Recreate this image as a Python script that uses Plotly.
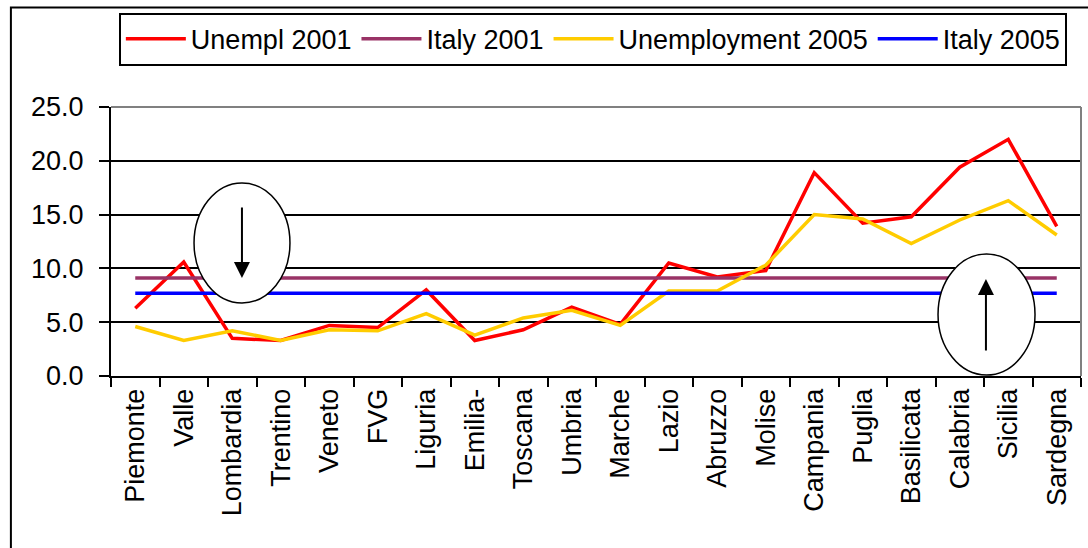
import plotly.graph_objects as go

regions = ["Piemonte", "Valle", "Lombardia", "Trentino", "Veneto", "FVG", "Liguria",
           "Emilia-", "Toscana", "Umbria", "Marche", "Lazio", "Abruzzo", "Molise",
           "Campania", "Puglia", "Basilicata", "Calabria", "Sicilia", "Sardegna"]
unempl_2001 = [6.3, 10.6, 3.5, 3.3, 4.7, 4.5, 8.0, 3.3, 4.3, 6.4, 4.8, 10.5, 9.2, 9.8,
               18.9, 14.2, 14.8, 19.4, 22.0, 13.9]
unempl_2005 = [4.6, 3.3, 4.2, 3.3, 4.3, 4.2, 5.8, 3.8, 5.4, 6.1, 4.7, 7.9, 7.9, 10.3,
               15.0, 14.6, 12.3, 14.5, 16.3, 13.1]
italy_2001 = 9.1
italy_2005 = 7.7
y_ticks = [0, 5, 10, 15, 20, 25]
y_tick_text = ["0.0", "5.0", "10.0", "15.0", "20.0", "25.0"]

FONT = "Liberation Sans, Arial, sans-serif"

fig = go.Figure()
fig.add_trace(go.Scatter(x=regions, y=unempl_2001, mode="lines", name="Unempl 2001",
                         line=dict(color="#FF0000", width=3.5)))
fig.add_trace(go.Scatter(x=regions, y=[italy_2001] * len(regions), mode="lines", name="Italy 2001",
                         line=dict(color="#993366", width=3.5)))
fig.add_trace(go.Scatter(x=regions, y=unempl_2005, mode="lines", name="Unemployment 2005",
                         line=dict(color="#FFCC00", width=3.5)))
fig.add_trace(go.Scatter(x=regions, y=[italy_2005] * len(regions), mode="lines", name="Italy 2005",
                         line=dict(color="#0000FF", width=3.5)))

# Ellipses (annotation callouts)
fig.add_shape(type="circle", xref="paper", yref="paper", x0=0.0856, x1=0.1845, y0=0.2714, y1=0.7175,
              line=dict(color="black", width=1.5), fillcolor="white", layer="above")
fig.add_shape(type="circle", xref="paper", yref="paper", x0=0.8526, x1=0.9526, y0=0.0037, y1=0.4535,
              line=dict(color="black", width=1.5), fillcolor="white", layer="above")
# plot-area top/right border (gray)
fig.add_shape(type="line", xref="paper", yref="paper", x0=0, x1=1, y0=1, y1=1,
              line=dict(color="#808080", width=2), layer="above")
fig.add_shape(type="line", xref="paper", yref="paper", x0=1, x1=1, y0=0, y1=1,
              line=dict(color="#808080", width=2), layer="above")
# outer frame
fig.add_shape(type="rect", xref="paper", yref="paper", x0=-0.1032, x1=1.02, y0=-0.7, y1=1.3695,
              line=dict(color="black", width=2), layer="above")

fig.add_annotation(xref="paper", yref="paper", x=0.135, y=0.364, ax=0, ay=-72,
                   showarrow=True, arrowhead=2, arrowsize=1.6, arrowwidth=2, arrowcolor="black", text="")
fig.add_annotation(xref="paper", yref="paper", x=0.902, y=0.3606, ax=0, ay=73,
                   showarrow=True, arrowhead=2, arrowsize=1.6, arrowwidth=2, arrowcolor="black", text="")

fig.update_layout(
    width=1088, height=548,
    margin=dict(l=111, r=7, t=107, b=172, autoexpand=False),
    paper_bgcolor="white", plot_bgcolor="white",
    font=dict(family=FONT, size=27, color="black"),
    showlegend=True,
    legend=dict(orientation="h", xref="container", yref="container",
                x=0.5449, xanchor="center", y=0.977, yanchor="top",
                bordercolor="black", borderwidth=2, bgcolor="white",
                font=dict(family=FONT, size=27, color="black"),
                itemwidth=60, tracegroupgap=0),
    xaxis=dict(type="category", tickangle=-90, showgrid=False, showline=True, automargin=False,
               linecolor="black", linewidth=2, ticks="outside", tickson="boundaries",
               ticklen=9, tickwidth=1.5, tickcolor="black", range=[-0.5, 19.5],
               tickfont=dict(family=FONT, size=27, color="black")),
    yaxis=dict(range=[0, 25], tickvals=y_ticks, ticktext=y_tick_text, showgrid=True, automargin=False,
               gridcolor="black", gridwidth=1.5, showline=True, linecolor="black", linewidth=2,
               ticks="outside", ticklen=10, tickwidth=1.5, tickcolor="black", zeroline=False,
               ticklabelstandoff=10,
               tickfont=dict(family=FONT, size=27, color="black")),
)

fig.write_html("out.html", config={"displayModeBar": False},
               post_script="document.body.style.margin='0';document.body.style.padding='0';")
